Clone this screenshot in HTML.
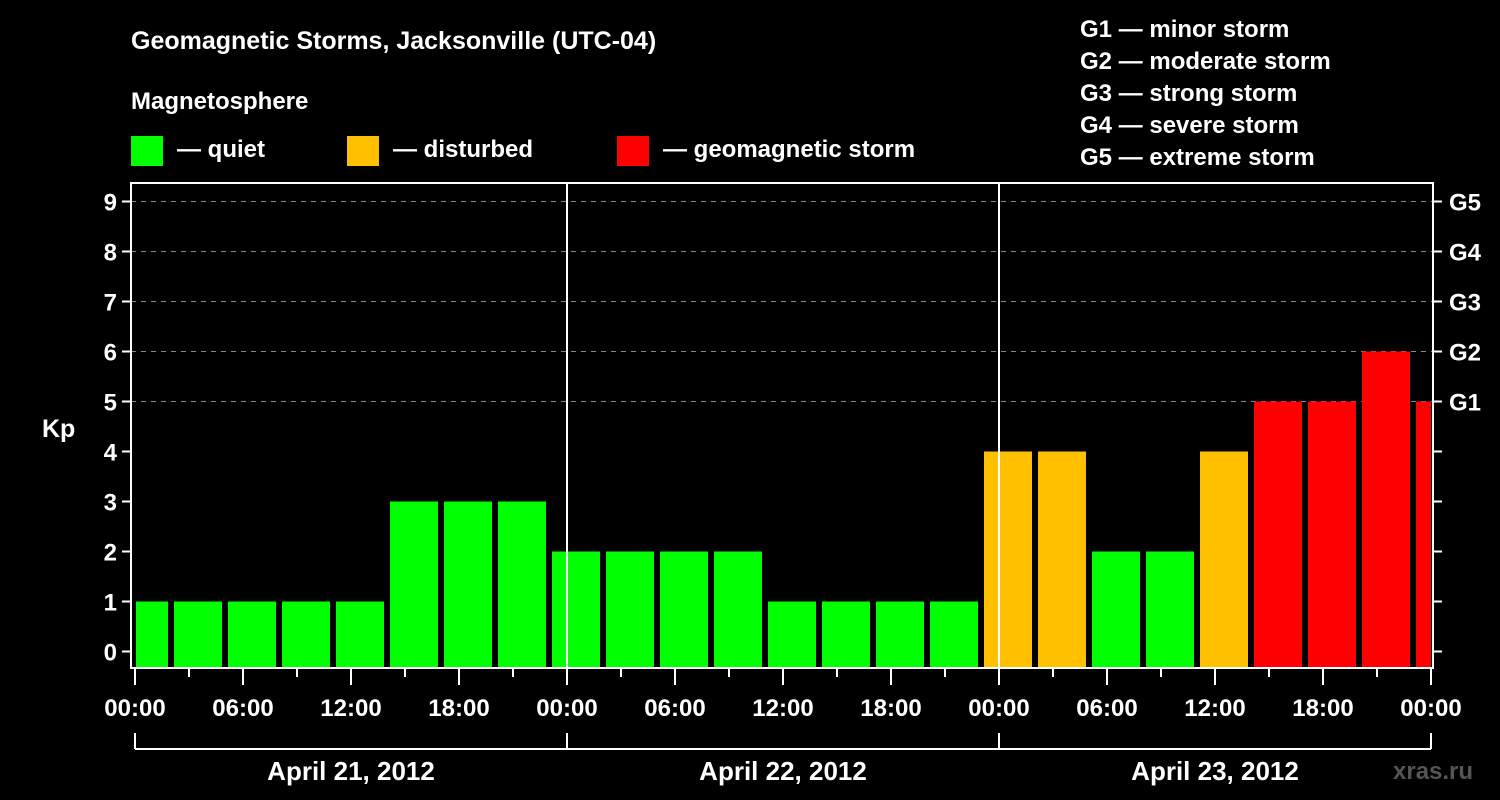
<!DOCTYPE html>
<html><head><meta charset="utf-8"><style>
body{margin:0;background:#000;}
svg{display:block;font-family:"Liberation Sans",Arial,sans-serif;font-weight:bold;}
</style></head><body>
<svg id="c" width="1500" height="800" viewBox="0 0 1500 800">
<rect width="1500" height="800" fill="#000"/>
<text x="131" y="49" fill="#fff" font-size="25">Geomagnetic Storms, Jacksonville (UTC-04)</text>
<text x="131" y="109" fill="#fff" font-size="24">Magnetosphere</text>
<g><rect x="131" y="136" width="32" height="30" fill="#00ff00"/><text x="177" y="157" fill="#fff" font-size="24">— quiet</text></g>
<g><rect x="347" y="136" width="32" height="30" fill="#ffc000"/><text x="393" y="157" fill="#fff" font-size="24">— disturbed</text></g>
<g><rect x="617" y="136" width="32" height="30" fill="#ff0000"/><text x="663" y="157" fill="#fff" font-size="24">— geomagnetic storm</text></g>
<g fill="#fff" font-size="24">
<text x="1080" y="37">G1 — minor storm</text>
<text x="1080" y="69">G2 — moderate storm</text>
<text x="1080" y="101">G3 — strong storm</text>
<text x="1080" y="133">G4 — severe storm</text>
<text x="1080" y="165">G5 — extreme storm</text>
</g>
<text x="42" y="437" fill="#fff" font-size="25">Kp</text>
<text x="1393" y="779" fill="#555" font-size="24">xras.ru</text>
<g id="grid"></g><g id="bars"></g><g id="axes"></g>
</svg>
<script>
const kpValues=[1,1,1,1,1,3,3,3,2,2,2,2,1,1,1,1,4,4,2,2,4,5,5,6,5];
const kpTicks=[0,1,2,3,4,5,6,7,8,9];
const gLabels=["","","","","","G1","G2","G3","G4","G5"];
const dayLabels=["April 21, 2012","April 22, 2012","April 23, 2012"];
const hourLabels=["00:00","06:00","12:00","18:00"];
const barStartHour=-1; // local hour of first 3h interval start
const NS="http://www.w3.org/2000/svg";
const X0=135,PXH=18,totalH=72;
const x=h=>X0+h*PXH;
const y=k=>651.5-k*50;
const L=131,R=1433,T=183,B=668;
function el(tag,attrs,parent,txt){const e=document.createElementNS(NS,tag);for(const k in attrs)e.setAttribute(k,attrs[k]);if(txt!==undefined)e.textContent=txt;parent.appendChild(e);return e;}
const grid=document.getElementById('grid'),bars=document.getElementById('bars'),axes=document.getElementById('axes');
kpTicks.forEach(k=>{if(k>=5){const g=el('line',{x1:L,x2:R,y1:y(k),y2:y(k),stroke:'#888','stroke-width':1,'stroke-dasharray':'5,5'},grid);

}});
kpValues.forEach((v,i)=>{let h0=barStartHour+3*i,h1=h0+3;
let x0=x(h0)+3,x1=x(h1)-3;x0=Math.max(x0,X0+1);x1=Math.min(x1,R-2);
const col=v>=5?'#ff0000':(v>=4?'#ffc000':'#00ff00');
const r=el('rect',{x:x0,y:y(v),width:x1-x0,height:B-y(v),fill:col},bars);

});
for(let d=1;d<3;d++){const s=el('line',{x1:x(24*d),x2:x(24*d),y1:T,y2:B,stroke:'#fff','stroke-width':2},axes);

}
const frame=el('rect',{x:L,y:T,width:R-L,height:B-T,fill:'none',stroke:'#fff','stroke-width':2},axes);


kpTicks.forEach((k,i)=>{el('line',{x1:L-9,x2:L,y1:y(k),y2:y(k),stroke:'#fff','stroke-width':2},axes);
el('line',{x1:R,x2:R+9,y1:y(k),y2:y(k),stroke:'#fff','stroke-width':2},axes);
const t=el('text',{x:L-14,y:y(k)+9,fill:'#fff','font-size':24,'text-anchor':'end'},axes,String(k));


if(gLabels[i]){const g=el('text',{x:1449,y:y(k)+9,fill:'#fff','font-size':24},axes,gLabels[i]);

}});
for(let h=0;h<=totalH;h+=3){const major=h%6===0;
el('line',{x1:x(h),x2:x(h),y1:B,y2:major?685:677,stroke:'#fff','stroke-width':2},axes);
if(major){const t=el('text',{x:x(h),y:716,fill:'#fff','font-size':24,'text-anchor':'middle'},axes,hourLabels[(h/6)%4]);

}}
el('line',{x1:x(0),x2:x(totalH),y1:749,y2:749,stroke:'#fff','stroke-width':2},axes);
for(let d=0;d<=3;d++)el('line',{x1:x(24*d),x2:x(24*d),y1:733,y2:749,stroke:'#fff','stroke-width':2},axes);
dayLabels.forEach((s,d)=>{const t=el('text',{x:x(24*d+12),y:780,fill:'#fff','font-size':26,'text-anchor':'middle'},axes,s);

});
</script>
</body></html>
